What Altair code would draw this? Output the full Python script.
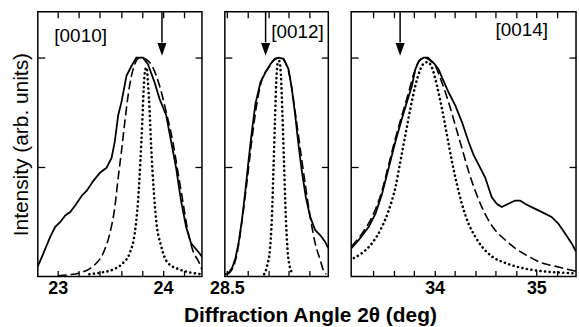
import altair as alt
import pandas as pd

# ---------------------------------------------------------------
# Measured profile (solid), fitted profile (dashed) and instrumental
# resolution (dotted) for three (00l) reflections.  2θ in degrees,
# intensity normalised to the peak maximum.
# ---------------------------------------------------------------

# [00 10]
r10_meas_2th = [22.81, 22.851, 22.929, 22.976, 23.024, 23.071, 23.118, 23.165, 23.228, 23.275,
                23.338, 23.401, 23.464, 23.511, 23.542, 23.574, 23.605, 23.653, 23.700, 23.747,
                23.810, 23.857, 23.920, 23.967, 24.030, 24.077, 24.124, 24.171, 24.219, 24.266,
                24.344, 24.37]
r10_meas_int = [0.046, 0.092, 0.182, 0.227, 0.249, 0.279, 0.294, 0.324, 0.369, 0.392,
                0.437, 0.474, 0.497, 0.542, 0.617, 0.737, 0.797, 0.917, 0.962, 1.0,
                1.0, 0.970, 0.887, 0.812, 0.737, 0.617, 0.497, 0.347, 0.227, 0.152,
                0.107, 0.09]
r10_fit_2th = [23.00, 23.10, 23.212, 23.338, 23.432, 23.495, 23.542, 23.574, 23.605, 23.637,
               23.668, 23.700, 23.731, 23.778, 23.841, 23.904, 23.967, 24.030, 24.093, 24.140,
               24.187, 24.234, 24.281, 24.344, 24.37]
r10_fit_int = [0.003, 0.007, 0.017, 0.047, 0.107, 0.197, 0.317, 0.452, 0.572, 0.707,
               0.827, 0.917, 0.970, 1.0, 0.992, 0.955, 0.872, 0.752, 0.617, 0.482,
               0.347, 0.212, 0.122, 0.062, 0.03]
r10_res_2th = [23.30, 23.401, 23.527, 23.621, 23.684, 23.731, 23.763, 23.785, 23.803, 23.816,
               23.828, 23.843, 23.857, 23.873, 23.888, 23.910, 23.935, 23.983, 24.046, 24.156,
               24.266, 24.37]
r10_res_int = [0.01, 0.017, 0.032, 0.062, 0.107, 0.197, 0.347, 0.527, 0.707, 0.857,
               0.935, 0.955, 0.887, 0.752, 0.587, 0.407, 0.257, 0.137, 0.062, 0.032,
               0.017, 0.01]

# [00 12]
r12_meas_2th = [28.48, 28.513, 28.551, 28.583, 28.615, 28.647, 28.680, 28.712, 28.743, 28.776,
                28.824, 28.872, 28.920, 28.962, 29.000, 29.048, 29.096, 29.128, 29.160, 29.192,
                29.224, 29.263, 29.305, 29.353, 29.401, 29.449, 29.48]
r12_meas_int = [0.009, 0.014, 0.039, 0.084, 0.159, 0.264, 0.399, 0.542, 0.670, 0.790,
                0.887, 0.932, 0.970, 0.995, 1.0, 0.995, 0.947, 0.857, 0.737, 0.602,
                0.482, 0.362, 0.272, 0.212, 0.189, 0.159, 0.129]
r12_fit_2th = [28.50, 28.551, 28.599, 28.647, 28.695, 28.743, 28.792, 28.840, 28.904, 28.962,
               29.016, 29.064, 29.112, 29.160, 29.208, 29.257, 29.305, 29.353, 29.401, 29.433,
               29.46]
r12_fit_int = [0.009, 0.032, 0.107, 0.257, 0.437, 0.632, 0.797, 0.902, 0.955, 0.992,
               1.0, 0.980, 0.902, 0.752, 0.587, 0.422, 0.272, 0.152, 0.077, 0.028,
               0.01]
r12_res_2th = [28.86, 28.89, 28.915, 28.935, 28.95, 28.965, 28.978, 28.993, 29.006, 29.022,
               29.036, 29.052, 29.068, 29.085, 29.105, 29.14]
r12_res_int = [0.01, 0.05, 0.12, 0.27, 0.49, 0.72, 0.90, 0.98, 0.985, 0.92,
               0.75, 0.52, 0.29, 0.13, 0.05, 0.01]

# [00 14]
r14_meas_2th = [33.183, 33.255, 33.353, 33.419, 33.483, 33.549, 33.615, 33.679, 33.728, 33.777,
                33.811, 33.843, 33.892, 33.935, 33.990, 34.039, 34.072, 34.137, 34.203, 34.268,
                34.333, 34.382, 34.431, 34.497, 34.562, 34.611, 34.660, 34.725, 34.791, 34.840,
                34.889, 34.954, 35.020, 35.085, 35.150, 35.216, 35.281, 35.346, 35.39]
r14_meas_int = [0.129, 0.167, 0.227, 0.287, 0.377, 0.497, 0.617, 0.722, 0.797, 0.872,
                0.947, 0.985, 1.0, 1.0, 0.977, 0.947, 0.910, 0.842, 0.782, 0.707,
                0.617, 0.557, 0.512, 0.452, 0.362, 0.332, 0.317, 0.332, 0.347, 0.347,
                0.332, 0.317, 0.302, 0.287, 0.272, 0.242, 0.197, 0.152, 0.114]
r14_fit_2th = [33.183, 33.287, 33.385, 33.483, 33.549, 33.615, 33.679, 33.745, 33.794, 33.843,
               33.892, 33.941, 34.007, 34.072, 34.137, 34.203, 34.268, 34.333, 34.399, 34.464,
               34.529, 34.595, 34.693, 34.791, 34.922, 35.052, 35.183, 35.314, 35.39]
r14_fit_int = [0.137, 0.197, 0.272, 0.392, 0.512, 0.632, 0.737, 0.842, 0.925, 0.980,
               1.0, 0.992, 0.962, 0.887, 0.797, 0.692, 0.587, 0.482, 0.392, 0.317,
               0.257, 0.212, 0.167, 0.129, 0.092, 0.062, 0.047, 0.032, 0.024]
r14_res_2th = [33.206, 33.287, 33.385, 33.483, 33.549, 33.615, 33.664, 33.713, 33.762, 33.811,
               33.860, 33.902, 33.935, 33.974, 34.023, 34.072, 34.121, 34.170, 34.219, 34.268,
               34.333, 34.399, 34.464, 34.562, 34.693, 34.856, 35.052, 35.248, 35.39]
r14_res_int = [0.084, 0.107, 0.152, 0.227, 0.302, 0.407, 0.527, 0.647, 0.767, 0.872,
               0.947, 0.977, 0.980, 0.955, 0.872, 0.767, 0.647, 0.527, 0.422, 0.332,
               0.242, 0.182, 0.137, 0.092, 0.062, 0.039, 0.024, 0.017, 0.014]

# Calculated Bragg positions marked by arrows
bragg_2th = [23.99, 28.874, 33.661]
reflections = ["[0010]", "[0012]", "[0014]"]

FONT = "Liberation Sans"
Y_TOP = 1.21
PLOT_H = 266


def frame(t, i):
    return pd.DataFrame({"t": t, "i": i})


def panel(meas, fit, res, domain, width, ticks, labelled, fmt, bragg, tag, tag_at, ytitle=None):
    xs = alt.Scale(domain=domain, nice=False, zero=False)
    ys = alt.Scale(domain=[0, Y_TOP], nice=False, zero=False)

    test = " || ".join(f"abs(datum.value - {v}) < 0.01" for v in labelled)
    tick_style = dict(domain=False, grid=False, tickColor="black", tickWidth=1.3, title=None)

    bottom = alt.Axis(orient="bottom", values=ticks, offset=-6, tickSize=6,
                      labelExpr=f"({test}) ? format(datum.value, '{fmt}') : ''",
                      labelFont=FONT, labelFontSize=18, labelFontWeight="bold",
                      labelColor="black", labelPadding=3, labelOverlap=False,
                      labelFlush=False, **tick_style)
    top = alt.Axis(orient="top", values=ticks, offset=-6, tickSize=6, labels=False, **tick_style)

    left_kw = dict(orient="left", values=[0.5, 1.0], offset=-7, tickSize=7, labels=False,
                   domain=False, grid=False, tickColor="black", tickWidth=1.3)
    if ytitle:
        left = alt.Axis(title=ytitle, titleFont=FONT, titleFontSize=21, titleFontWeight="normal",
                        titleColor="black", titlePadding=6, **left_kw)
    else:
        left = alt.Axis(title=None, **left_kw)
    right = alt.Axis(orient="right", values=[0.5, 1.0], offset=-7, tickSize=7, labels=False,
                     **tick_style)

    measured = alt.Chart(meas).mark_line(color="black", strokeWidth=1.8, clip=True).encode(
        x=alt.X("t:Q", scale=xs, axis=bottom),
        y=alt.Y("i:Q", scale=ys, axis=left),
    )
    fitted = alt.Chart(fit).mark_line(color="black", strokeWidth=1.6, strokeDash=[9, 4],
                                      interpolate="monotone", clip=True).encode(
        x=alt.X("t:Q", scale=xs, axis=top),
        y=alt.Y("i:Q", scale=ys, axis=right),
    )
    resolution = alt.Chart(res).mark_line(color="black", strokeWidth=2.6, strokeDash=[0.1, 4.5],
                                          strokeCap="round", interpolate="monotone",
                                          clip=True).encode(
        x=alt.X("t:Q", scale=xs, axis=None),
        y=alt.Y("i:Q", scale=ys, axis=None),
    )

    arrow_df = pd.DataFrame({"b": [bragg]})
    shaft = alt.Chart(arrow_df).mark_rule(color="black", strokeWidth=1.5).encode(
        x=alt.X("b:Q", scale=xs, axis=None),
        y=alt.YDatum(Y_TOP, scale=ys, axis=None),
        y2=alt.Y2Datum(1.07),
    )
    head = alt.Chart(arrow_df).mark_point(shape="M-0.7,-1L0.7,-1L0,1Z", filled=True,
                                          size=169, color="black", opacity=1).encode(
        x=alt.X("b:Q", scale=xs, axis=None),
        y=alt.YDatum(1.038, scale=ys, axis=None),
    )

    label = alt.Chart(pd.DataFrame({"lab": [tag]})).mark_text(
        font=FONT, fontSize=19, color="black", align="center", baseline="middle"
    ).encode(
        x=alt.XDatum(tag_at[0], scale=xs, axis=None),
        y=alt.YDatum(tag_at[1], scale=ys, axis=None),
        text="lab:N",
    )

    return alt.layer(measured, fitted, resolution, shaft, head, label).resolve_axis(
        x="independent", y="independent"
    ).properties(width=width, height=PLOT_H)


p10 = panel(frame(r10_meas_2th, r10_meas_int), frame(r10_fit_2th, r10_fit_int),
            frame(r10_res_2th, r10_res_int),
            domain=[22.81, 24.37], width=165,
            ticks=[23.0, 23.2, 23.4, 23.6, 23.8, 24.0, 24.2], labelled=[23, 24], fmt="d",
            bragg=bragg_2th[0], tag=reflections[0], tag_at=(23.217, 1.101),
            ytitle="Intensity (arb. units)")
p12 = panel(frame(r12_meas_2th, r12_meas_int), frame(r12_fit_2th, r12_fit_int),
            frame(r12_res_2th, r12_res_int),
            domain=[28.48, 29.48], width=104,
            ticks=[28.5, 28.7, 28.9, 29.1, 29.3, 29.5], labelled=[28.5, 29.5], fmt=".1f",
            bragg=bragg_2th[1], tag=reflections[1], tag_at=(29.182, 1.117))
p14 = panel(frame(r14_meas_2th, r14_meas_int), frame(r14_fit_2th, r14_fit_int),
            frame(r14_res_2th, r14_res_int),
            domain=[33.18, 35.39], width=226,
            ticks=[33.4, 33.6, 33.8, 34.0, 34.2, 34.4, 34.6, 34.8, 35.0, 35.2],
            labelled=[34, 35], fmt="d",
            bragg=bragg_2th[2], tag=reflections[2], tag_at=(34.857, 1.126))

chart = alt.hconcat(p10, p12, p14, spacing=23, bounds="flush").properties(
    title=alt.TitleParams(
        text="Diffraction Angle 2θ (deg)", orient="bottom", anchor="middle",
        font=FONT, fontSize=21, fontWeight="bold", color="black", offset=7, dx=17,
    ),
    padding={"left": 9, "top": 9, "right": 1, "bottom": 0},
    background="white",
).configure_view(stroke="black", strokeWidth=1.5)

chart.save("out.html", embed_options={"renderer": "svg", "actions": False})
